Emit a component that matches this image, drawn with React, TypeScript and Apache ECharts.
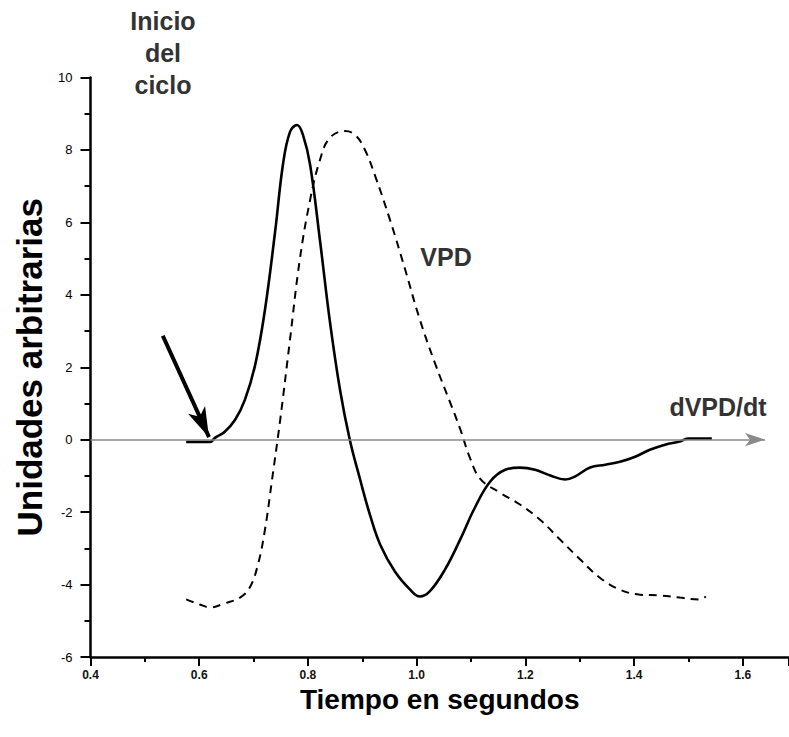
import React, { useEffect, useRef } from "react";
import * as echarts from "echarts";

const xTicks = [0.4, 0.6, 0.8, 1.0, 1.2, 1.4, 1.6];
const yTicks = [-6, -4, -2, 0, 2, 4, 6, 8, 10];

const dvpdX = [0.576, 0.62, 0.629, 0.647, 0.666, 0.684, 0.703, 0.721, 0.74, 0.754, 0.767, 0.78, 0.791, 0.804, 0.822, 0.84, 0.859, 0.877, 0.896, 0.914, 0.933, 0.96, 0.988, 1.006, 1.024, 1.052, 1.08, 1.107, 1.135, 1.163, 1.19, 1.218, 1.246, 1.273, 1.291, 1.319, 1.347, 1.374, 1.402, 1.429, 1.457, 1.484, 1.499, 1.543];
const dvpdY = [-0.06, -0.06, 0.05, 0.22, 0.55, 1.1, 2.07, 3.59, 5.79, 7.59, 8.5, 8.69, 8.41, 7.59, 5.52, 3.31, 1.38, 0, -1.1, -2.07, -2.9, -3.64, -4.14, -4.33, -4.19, -3.59, -2.76, -1.88, -1.16, -0.83, -0.77, -0.83, -0.99, -1.1, -1.02, -0.77, -0.69, -0.61, -0.47, -0.28, -0.14, -0.05, 0.03, 0.03];

const vpdX = [0.576, 0.601, 0.62, 0.647, 0.675, 0.693, 0.708, 0.721, 0.734, 0.749, 0.767, 0.785, 0.804, 0.822, 0.84, 0.868, 0.887, 0.905, 0.923, 0.951, 0.979, 1.006, 1.034, 1.061, 1.08, 1.098, 1.117, 1.153, 1.19, 1.227, 1.264, 1.301, 1.337, 1.374, 1.411, 1.448, 1.484, 1.521, 1.532];
const vpdY = [-4.41, -4.55, -4.63, -4.52, -4.36, -4.08, -3.45, -2.48, -1.1, 0.55, 2.76, 4.97, 6.62, 7.72, 8.33, 8.52, 8.41, 8.0, 7.31, 6.07, 4.69, 3.31, 2.1, 1.05, 0.3, -0.5, -1.08, -1.46, -1.79, -2.21, -2.76, -3.31, -3.81, -4.14, -4.28, -4.3, -4.36, -4.41, -4.33];

const zeroLine = [[0.4, 0], [1.641, 0]];
const arrowLine = [[0.533, 2.87], [0.618, 0.07]];

const FONT = "Liberation Sans, Arial, Helvetica, sans-serif";

export default function App() {
  const ref = useRef<HTMLDivElement>(null);
  useEffect(() => {
    if (!ref.current) return;
    const chart = echarts.init(ref.current, null, { renderer: "svg" });
    chart.setOption({
      animation: false,
      backgroundColor: "#ffffff",
      grid: { left: 90.5, top: 77.5, right: 0, bottom: 80, containLabel: false },
      xAxis: {
        type: "value",
        min: xTicks[0],
        max: 1.685,
        interval: 0.2,
        name: "Tiempo en segundos",
        nameLocation: "middle",
        nameGap: 15,
        nameTextStyle: { fontFamily: FONT, fontWeight: "bold", fontSize: 28, color: "#000", verticalAlign: "top" },
        axisLine: { show: true, onZero: false, lineStyle: { color: "#000", width: 2.5 } },
        axisTick: { show: true, inside: false, length: 9, lineStyle: { color: "#000", width: 2 } },
        minorTick: { show: true, splitNumber: 2, length: 5, lineStyle: { color: "#000", width: 2 } },
        splitLine: { show: false },
        axisLabel: {
          showMaxLabel: false,
          margin: 12,
          fontFamily: "Liberation Sans Narrow, Liberation Sans, Arial",
          fontWeight: "bold",
          fontSize: 12,
          color: "#111",
          formatter: (v: number) => v.toFixed(1),
        },
      },
      yAxis: {
        type: "value",
        min: yTicks[0],
        max: yTicks[yTicks.length - 1],
        interval: 2,
        name: "Unidades arbitrarias",
        nameLocation: "middle",
        nameGap: 40,
        nameTextStyle: { fontFamily: FONT, fontWeight: "bold", fontSize: 35, color: "#000" },
        axisLine: { show: true, onZero: false, lineStyle: { color: "#000", width: 2.5 } },
        axisTick: { show: true, inside: false, length: 10, lineStyle: { color: "#000", width: 2 } },
        minorTick: { show: true, splitNumber: 2, length: 6, lineStyle: { color: "#000", width: 2 } },
        splitLine: { show: false },
        axisLabel: { margin: 18, fontFamily: FONT, fontSize: 13, color: "#000" },
      },
      series: [
        {
          name: "VPD",
          type: "line",
          smooth: 0.4,
          showSymbol: false,
          data: vpdX.map((x, i) => [x, vpdY[i]]),
          lineStyle: { color: "#000", width: 2, type: [8, 6] },
          z: 3,
        },
        {
          name: "dVPD/dt",
          type: "line",
          smooth: 0.4,
          showSymbol: false,
          data: dvpdX.map((x, i) => [x, dvpdY[i]]),
          lineStyle: { color: "#000", width: 2.6 },
          z: 4,
          markLine: {
            silent: true,
            animation: false,
            label: { show: false },
            data: [
              [
                { coord: zeroLine[0], symbol: "none", lineStyle: { color: "#8a8a8a", width: 1.6, type: "solid" } },
                { coord: zeroLine[1], symbol: "arrow", symbolSize: [10, 20] },
              ],
              [
                { coord: arrowLine[0], symbol: "none", lineStyle: { color: "#000", width: 4, type: "solid" } },
                { coord: arrowLine[1], symbol: "arrow", symbolSize: [14, 30] },
              ],
            ],
          },
        },
      ],
      graphic: [
        { type: "text", x: 163, y: 5, style: { text: "Inicio\ndel\nciclo", align: "center", verticalAlign: "top", fontFamily: FONT, fontWeight: "bold", fontSize: 25, lineHeight: 32, fill: "#333" } },
        { type: "text", x: 446, y: 257, style: { text: "VPD", align: "center", verticalAlign: "middle", fontFamily: FONT, fontWeight: "bold", fontSize: 25, fill: "#333" } },
        { type: "text", x: 718, y: 407, style: { text: "dVPD/dt", align: "center", verticalAlign: "middle", fontFamily: FONT, fontWeight: "bold", fontSize: 25, fill: "#333" } },
      ],
    });
    return () => chart.dispose();
  }, []);
  return <div ref={ref} style={{ position: "absolute", left: 0, top: 0, width: 789, height: 737 }} />;
}
